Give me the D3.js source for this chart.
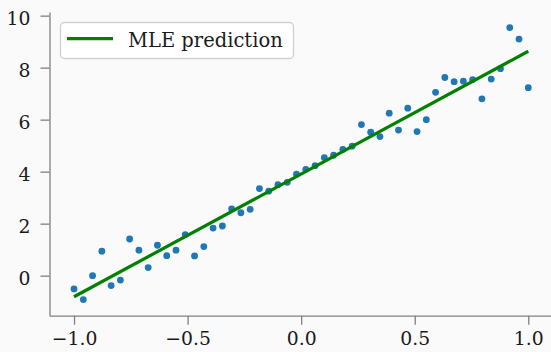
<!DOCTYPE html>
<html>
<head>
<meta charset="utf-8">
<script src="https://cdn.jsdelivr.net/npm/d3@7"></script>
<style>
  html, body { margin: 0; padding: 0; background: #fafafa; }
  svg { display: block; }
  text { font-family: "DejaVu Serif"; }
</style>
</head>
<body>
<svg id="chart" width="551" height="352"></svg>
<script>
// Observed samples on x = linspace(-1, 1, 50)
const xValues = d3.range(50).map(i => -1 + 2 * i / 49);
const yValues = [
  -0.51, -0.92, 0.00, 0.94, -0.38, -0.17, 1.41, 0.98, 0.31, 1.17,
  0.77, 0.98, 1.58, 0.76, 1.12, 1.83, 1.91, 2.57, 2.42, 2.55,
  3.35, 3.25, 3.50, 3.59, 3.90, 4.09, 4.23, 4.54, 4.63, 4.86,
  4.98, 5.81, 5.52, 5.35, 6.25, 5.60, 6.44, 5.54, 6.00, 7.05,
  7.62, 7.46, 7.48, 7.54, 6.80, 7.56, 7.96, 9.54, 9.10, 7.23
];
// Fitted line endpoints (maximum likelihood estimate)
const fitX = [-1, 1];
const fitY = [-0.81, 8.63];
const xTicks = [-1.0, -0.5, 0.0, 0.5, 1.0];
const yTicks = [0, 2, 4, 6, 8, 10];
const legendLabel = "MLE prediction";

const svg = d3.select("#chart");
const x = d3.scaleLinear().domain([-1.108, 1.1]).range([49.5, 551]);
const y = d3.scaleLinear().domain([-1.54, 10.14]).range([315.7, 12]);

const axisColor = "#808080";
const fmtMinus = v => d3.format(".1f")(v).replace("-", "\u2212");

const gx = svg.append("g")
  .attr("transform", `translate(0,${y.range()[0]})`)
  .call(d3.axisBottom(x).tickValues(xTicks).tickFormat(fmtMinus).tickSize(9).tickPadding(5).tickSizeOuter(0));
const gy = svg.append("g")
  .attr("transform", `translate(${x.range()[0]},0)`)
  .call(d3.axisLeft(y).tickValues(yTicks).tickFormat(d3.format("d")).tickSize(9).tickPadding(10).tickSizeOuter(0));

[gx, gy].forEach(g => {
  g.attr("font-family", null);
  g.select(".domain").attr("stroke", axisColor).attr("stroke-width", 1.3);
  g.selectAll(".tick line").attr("stroke", axisColor).attr("stroke-width", 1.3);
  g.selectAll(".tick text").attr("fill", "#1a1a1a").attr("font-size", 18.8);
});
gy.selectAll(".tick text").attr("dy", "0.45em");
gx.selectAll(".tick text").attr("dy", "0.8em");

// Scatter points
svg.append("g").selectAll("circle")
  .data(xValues.map((xv, i) => [xv, yValues[i]]))
  .join("circle")
  .attr("cx", d => x(d[0]))
  .attr("cy", d => y(d[1]))
  .attr("r", 3.4)
  .attr("fill", "#1f77b4");

// Fitted line
svg.append("path")
  .datum(fitX.map((xv, i) => [xv, fitY[i]]))
  .attr("fill", "none")
  .attr("stroke", "#008000")
  .attr("stroke-width", 3.2)
  .attr("d", d3.line().x(d => x(d[0])).y(d => y(d[1])));

// Legend
const lg = svg.append("g");
lg.append("rect")
  .attr("x", 60.5).attr("y", 22.5).attr("width", 233).attr("height", 36)
  .attr("rx", 4).attr("ry", 4)
  .attr("fill", "#ffffff").attr("fill-opacity", 0.85)
  .attr("stroke", "#d0d0d0").attr("stroke-width", 1.3);
lg.append("line")
  .attr("x1", 67).attr("x2", 113).attr("y1", 38.7).attr("y2", 38.7)
  .attr("stroke", "#008000").attr("stroke-width", 3.2);
lg.append("text")
  .attr("x", 128).attr("y", 47)
  .attr("font-size", 19.5)
  .attr("fill", "#1a1a1a")
  .text(legendLabel);
</script>
</body>
</html>
